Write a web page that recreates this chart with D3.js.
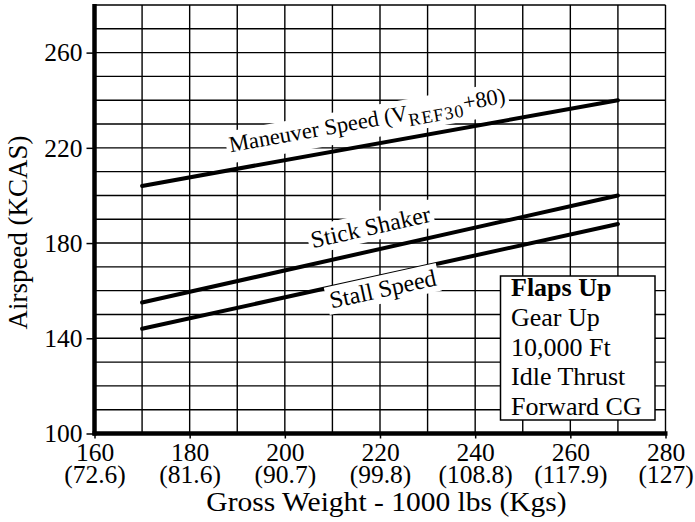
<!DOCTYPE html>
<html><head><meta charset="utf-8">
<script src="https://cdn.jsdelivr.net/npm/d3@7"></script>
<style>
body{margin:0;background:#fff}
svg{display:block}
</style>
</head><body><svg id="c" width="695" height="522"></svg>
<script>
// ---- data ----
const weights = [170, 270];
const maneuverSpeed = [204, 240];
const stickShaker = [155, 200];
const stallSpeed = [144, 188];
const xTicks = [160, 180, 200, 220, 240, 260, 280];
const xTickKg = ["(72.6)", "(81.6)", "(90.7)", "(99.8)", "(108.8)", "(117.9)", "(127)"];
const yTicks = [100, 140, 180, 220, 260];
const legendLines = ["Flaps Up", "Gear Up", "10,000 Ft", "Idle Thrust", "Forward CG"];

const FONT = '"Liberation Serif"';
const svg = d3.select("#c");
const x = d3.scaleLinear().domain([160, 280]).range([94.5, 665.5]);
const y = d3.scaleLinear().domain([100, 280]).range([433.5, 5]);

// grid
const g = svg.append("g");
g.selectAll("line.v").data(d3.range(170, 281, 10)).join("line")
  .attr("x1", d => x(d)).attr("x2", d => x(d))
  .attr("y1", y(280)).attr("y2", y(100))
  .attr("stroke", "#000").attr("stroke-width", 1.4);
g.selectAll("line.h").data(d3.range(110, 281, 10)).join("line")
  .attr("x1", x(160)).attr("x2", x(280))
  .attr("y1", d => y(d)).attr("y2", d => y(d))
  .attr("stroke", "#000").attr("stroke-width", 1.4);

// axes
const ya = svg.append("g").attr("transform", `translate(${x(160)},0)`)
  .call(d3.axisLeft(y).tickValues(yTicks).tickSize(8).tickPadding(4).tickFormat(d3.format("d")));
ya.attr("font-family", null).attr("font-size", null);
ya.select(".domain").remove();
ya.selectAll(".tick line").attr("stroke-width", 1.5);
ya.selectAll(".tick text").attr("font-size", 25.5).style("font-family", FONT).attr("fill", "#000");

const xa = svg.append("g").attr("transform", `translate(0,${y(100)})`)
  .call(d3.axisBottom(x).tickValues(xTicks).tickSize(5).tickFormat(d3.format("d")));
xa.attr("font-family", null).attr("font-size", null);
xa.select(".domain").remove();
xa.selectAll(".tick line").attr("stroke-width", 1.5);
xa.selectAll(".tick text").each(function(d, i) {
  const t = d3.select(this).text(null).attr("y", 0).attr("dy", null)
    .attr("font-size", 25.5).style("font-family", FONT).attr("fill", "#000");
  t.append("tspan").attr("x", 0).attr("y", 27.5).text(d);
  t.append("tspan").attr("x", 0).attr("y", 49.5).text(xTickKg[i]);
});

// thick axis lines
svg.append("line").attr("x1", x(160)).attr("x2", x(160)).attr("y1", y(280) - 1).attr("y2", y(100) + 2)
  .attr("stroke", "#000").attr("stroke-width", 4.5);
svg.append("line").attr("x1", x(160) - 2).attr("x2", x(280) + 2).attr("y1", y(100)).attr("y2", y(100))
  .attr("stroke", "#000").attr("stroke-width", 4.5);

// axis titles
svg.append("text").attr("transform", "translate(386.5,511) scale(1.055,1)").attr("text-anchor", "middle")
  .attr("font-size", 28).style("font-family", FONT).text("Gross Weight - 1000 lbs (Kgs)");
svg.append("text").attr("transform", "translate(27,232.5) rotate(-90)").attr("text-anchor", "middle")
  .attr("font-size", 27).style("font-family", FONT).text("Airspeed (KCAS)");

// lines
const series = [maneuverSpeed, stickShaker, stallSpeed];
const lineGen = d3.line().x(d => x(d[0])).y(d => y(d[1]));
series.forEach(s => {
  svg.append("path").datum(weights.map((w, i) => [w, s[i]]))
    .attr("d", lineGen).attr("fill", "none").attr("stroke", "#000")
    .attr("stroke-width", 4).attr("stroke-linecap", "round");
});

// curve labels
function label(s, atW, off, parts, fs) {
  const x0 = x(weights[0]), x1 = x(weights[1]);
  const y0 = y(s[0]), y1 = y(s[1]);
  const ang = Math.atan2(y1 - y0, x1 - x0) * 180 / Math.PI;
  const px = x(atW);
  const py = y0 + (y1 - y0) * (px - x0) / (x1 - x0);
  const grp = svg.append("g").attr("transform", `translate(${px},${py}) rotate(${ang})`);
  const rect = grp.append("rect").attr("fill", "#fff");
  const t = grp.append("text").attr("x", 0).attr("y", off).attr("text-anchor", "middle")
    .attr("font-size", fs).style("font-family", FONT);
  parts.forEach(p => {
    const ts = t.append("tspan").text(p.t);
    if (p.sub) ts.attr("font-size", fs * 0.8).attr("dy", 6).attr("letter-spacing", 1.1);
    if (p.unsub) ts.attr("dy", -6);
  });
  const bb = t.node().getBBox();
  rect.attr("x", bb.x - 3).attr("y", bb.y - 1).attr("width", bb.width + 6).attr("height", bb.height + 2);
}
label(maneuverSpeed, 218.2, -17.4, [{t: "Maneuver Speed (V"}, {t: "REF30", sub: true}, {t: "+80)", unsub: true}], 22.5);
label(stickShaker, 219.1, -15.5, [{t: "Stick Shaker"}], 24);
label(stallSpeed, 220, 21, [{t: "Stall Speed"}], 24);

// legend box
svg.append("rect").attr("x", 500.5).attr("y", 276).attr("width", 154.5).attr("height", 144)
  .attr("fill", "#fff").attr("stroke", "#000").attr("stroke-width", 1.5);
svg.selectAll("text.leg").data(legendLines).join("text").attr("class", "leg")
  .attr("x", 511).attr("y", (d, i) => 296 + i * 29.75)
  .attr("font-size", 26).style("font-family", FONT)
  .attr("font-weight", (d, i) => i === 0 ? "bold" : "normal")
  .text(d => d);
</script>
</body></html>
